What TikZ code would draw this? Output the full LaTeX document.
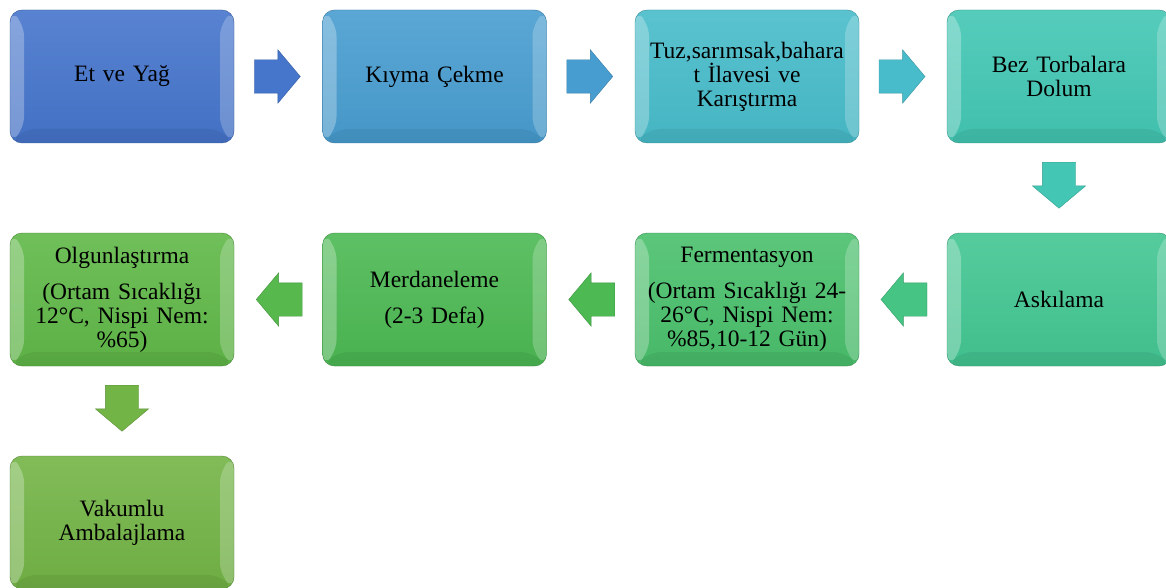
\documentclass[tikz,border=0pt]{standalone}
\usepackage{fontspec}
\setmainfont{Liberation Serif}
\usepackage{tikz}
\usetikzlibrary{
  shapes.arrows,
  calc
}

\definecolor{cBlue}{HTML}{4675CC}
\definecolor{cSky}{HTML}{489DD0}
\definecolor{cTeal}{HTML}{48BCCA}
\definecolor{cAqua}{HTML}{43C7B4}
\definecolor{cMint}{HTML}{43C692}
\definecolor{cJade}{HTML}{4AC06C}
\definecolor{cLeaf}{HTML}{4CB953}
\definecolor{cGrass}{HTML}{60B848}
\definecolor{cOlive}{HTML}{73B446}

\newcommand{\boxfont}{\fontsize{23.5}{24}\selectfont}

\tikzset{
  stepbox/.style={rounded corners=12pt, minimum width=224pt, minimum height=133pt,
    draw=#1!75!black, top color=#1!90!white, bottom color=#1!96!black,
    align=center, text width=205pt, inner sep=0pt, font=\boxfont,
    path picture={
      \fill[white,opacity=.28] (path picture bounding box.north west) -- ++(14pt,-14pt)
        -- ($(path picture bounding box.south west)+(14pt,14pt)$)
        -- (path picture bounding box.south west) -- cycle;
      \fill[white,opacity=.22] (path picture bounding box.north east) -- ++(-14pt,-14pt)
        -- ($(path picture bounding box.south east)+(-14pt,14pt)$)
        -- (path picture bounding box.south east) -- cycle;
      \fill[black,opacity=.06] (path picture bounding box.south west) -- ++(14pt,14pt)
        -- ($(path picture bounding box.south east)+(-14pt,14pt)$)
        -- (path picture bounding box.south east) -- cycle;
    }},
  flowbase/.style={single arrow, draw=#1!80!black, fill=#1,
    minimum height=46pt, single arrow head extend=10pt, single arrow tip angle=100},
  flow/.style={flowbase=#1, inner xsep=0pt, inner ysep=16.5pt, xshift=-8pt},
  flowleft/.style={flowbase=#1, inner xsep=0pt, inner ysep=16.5pt,
    shape border rotate=180, xshift=8pt},
  flowdown/.style={flowbase=#1, inner xsep=16.5pt, inner ysep=0pt,
    shape border rotate=270, yshift=8pt}
}

\begin{document}
\begin{tikzpicture}[x=1pt, y=-1pt]
\useasboundingbox (0,0) rectangle (1166,588);
\clip (0,0) rectangle (1166,588);

% first row
\node[stepbox=cBlue]  (et)    at (122,76.5)   {Et ve Yağ};
\node[stepbox=cSky]   (kiyma) at (434.5,76.5) {Kıyma Çekme};
\node[stepbox=cTeal]  (tuz)   at (747,76.5)   {Tuz,sarımsak,bahara\\t İlavesi ve\\Karıştırma};
\node[stepbox=cAqua]  (bez)   at (1059,76.5)  {Bez Torbalara\\Dolum};

% second row
\node[stepbox=cMint]  (aski)  at (1059,299.5) {Askılama};
\node[stepbox=cJade]  (ferm)  at (747,299.5)  {Fermentasyon\\[12pt](Ortam Sıcaklığı 24-\\26°C, Nispi Nem:\\\%85,10-12 Gün)};
\node[stepbox=cLeaf]  (merd)  at (434.5,299.5) {Merdaneleme\\[12pt](2-3 Defa)};
\node[stepbox=cGrass] (olgun) at (122,299.5)  {Olgunlaştırma\\[12pt](Ortam Sıcaklığı\\12°C, Nispi Nem:\\\%65)};

% last one
\node[stepbox=cOlive] (vakum) at (122,522.5)  {Vakumlu\\Ambalajlama};

% arrows
\node[flow=cBlue] (a1) at ($(et.east)!0.5!(kiyma.west)$) {};
\node[flow=cSky]  (a2) at ($(kiyma.east)!0.5!(tuz.west)$) {};
\node[flow=cTeal] (a3) at ($(tuz.east)!0.5!(bez.west)$) {};
\node[flowdown=cAqua] (a4) at ($(bez.south)!0.48!(aski.north)$) {};
\node[flowleft=cMint!60!cJade]  (a5) at ($(aski.west)!0.5!(ferm.east)$) {};
\node[flowleft=cLeaf] (a6) at ($(ferm.west)!0.5!(merd.east)$) {};
\node[flowleft=cLeaf!50!cGrass] (a7) at ($(merd.west)!0.5!(olgun.east)$) {};
\node[flowdown=cOlive] (a8) at ($(olgun.south)!0.48!(vakum.north)$) {};

\end{tikzpicture}
\end{document}
